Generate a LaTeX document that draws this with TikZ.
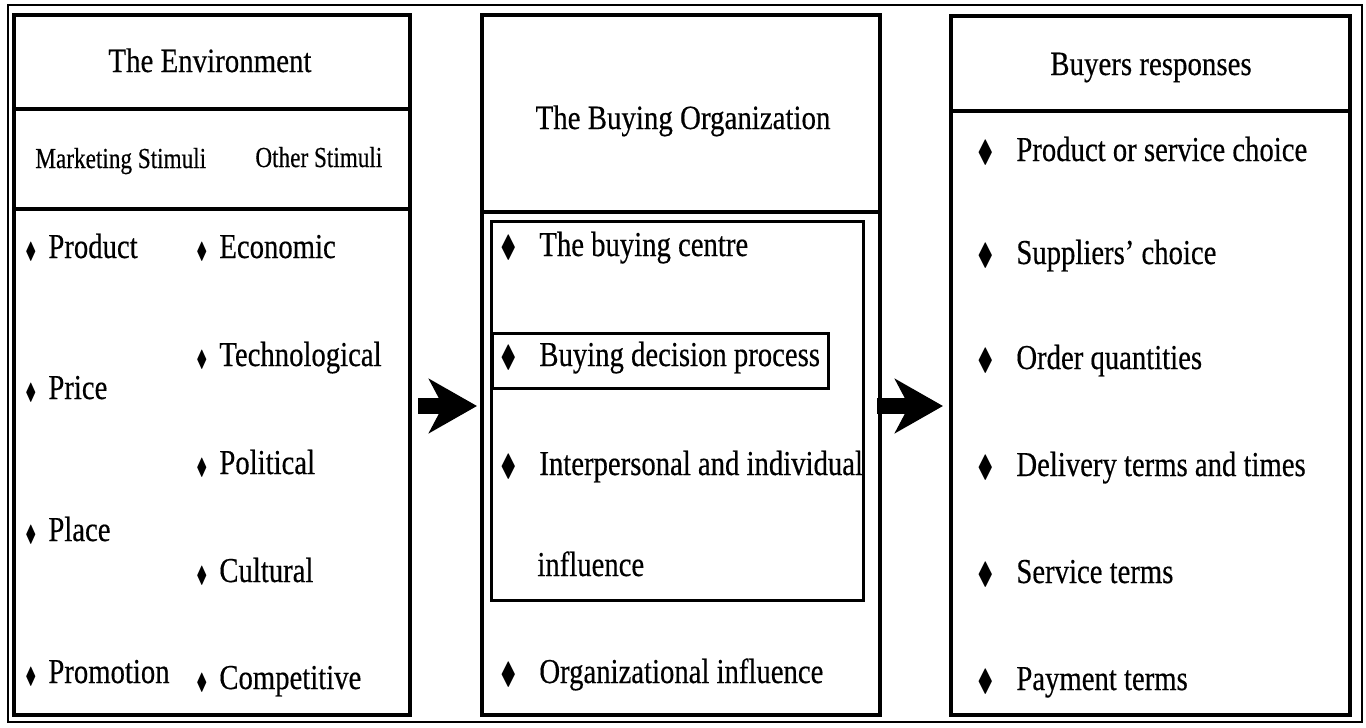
\documentclass[tikz,border=0pt]{standalone}
\usepackage{fontspec}
\usepackage{amssymb}
\usepackage{graphicx}
\setmainfont[FakeStretch=0.82, FakeBold=0.4]{Liberation Serif}
\newfontfamily\headfam[FakeStretch=0.85, FakeBold=0.4]{Liberation Serif}
\newfontfamily\stimfam[FakeStretch=0.80, FakeBold=0.4]{Liberation Serif}
\usetikzlibrary{arrows.meta,positioning}
\newcommand{\smalldia}{\resizebox{5.5pt}{8pt}{$\blacklozenge$}\hspace{6pt}}
\newcommand{\bigdia}{\makebox[19.5pt][l]{\resizebox{8pt}{10.5pt}{$\blacklozenge$}}}
\tikzset{
  colbox/.style = {draw, line width=2.2pt, outer sep=0pt, inner sep=0pt},
  thinbox/.style = {draw, line width=1.5pt, outer sep=0pt, inner sep=0pt},
  headtext/.style = {anchor=base, inner sep=0pt, font=\headfam\fontsize{17}{20}\selectfont},
  stimtext/.style = {anchor=base west, inner sep=0pt, font=\stimfam\fontsize{14.5}{17}\selectfont},
  itemtext/.style = {anchor=base west, inner sep=0pt, font=\fontsize{17.5}{20}\selectfont},
  bigarrow/.style = {line width=8pt, -{Stealth[length=24pt, width=27pt, inset=7pt]}}
}
\begin{document}
\begin{tikzpicture}[x=0.5pt, y=-0.5pt]
\useasboundingbox (0,0) rectangle (1366,728);
\draw[line width=0.75pt] (8,5) rectangle (1362,722);
% the environment
\node[colbox, minimum width=198pt, minimum height=47pt] (envhead) at (212,62) {};
\node[colbox, minimum width=198pt, minimum height=50pt] (envstim) at (212,159) {};
\node[colbox, minimum width=198pt, minimum height=253pt] (envlist) at (212,462) {};
\node[headtext] (envtitle) at (210,72) {The Environment};
\node[stimtext] (mktstim) at (35,168) {Marketing Stimuli};
\node[stimtext] (othstim) at (255,167) {Other Stimuli};
\foreach \y/\t [count=\i] in {258/Product, 399/Price, 541/Place, 683/Promotion}
  \node[itemtext] (mkt\i) at (25,\y) {\smalldia\t};
\foreach \y/\t [count=\i] in {258/Economic, 366/Technological, 474/Political, 582/Cultural, 689/Competitive}
  \node[itemtext] (oth\i) at (196,\y) {\smalldia\t};
% the buying organization
\node[colbox, minimum width=199pt, minimum height=98.5pt] (orghead) at (681,113.5) {};
\node[colbox, minimum width=199pt, minimum height=251.5pt] (orglist) at (681,463.5) {};
\node[thinbox, minimum width=186pt, minimum height=189.5pt] (orgcentre) at (677,410.5) {};
\node[thinbox, minimum width=168pt, minimum height=27.5pt] (orgprocess) at (660,360.5) {};
\node[headtext] (orgtitle) at (683,129) {The Buying Organization};
\node[itemtext] (org1) at (500,256) {\bigdia The buying centre};
\node[itemtext] (org2) at (500,366) {\bigdia Buying decision process};
\node[itemtext] (org3) at (500,475) {\bigdia Interpersonal and individual};
\node[itemtext] (org3b) at (537,576) {influence};
\node[itemtext] (org4) at (500,683) {\bigdia Organizational influence};
% buyers responses
\node[colbox, minimum width=199.5pt, minimum height=47.5pt] (resphead) at (1150.5,63.5) {};
\node[colbox, minimum width=199.5pt, minimum height=302pt] (resplist) at (1150.5,413) {};
\node[headtext] (resptitle) at (1151,75) {Buyers responses};
\foreach \y/\t [count=\i] in {161/Product or service choice, 264/Suppliers' choice, 369/Order quantities,
    476/Delivery terms and times, 583/Service terms, 690/Payment terms}
  \node[itemtext] (resp\i) at (977,\y) {\bigdia\t};
% arrows
\draw[bigarrow] ([shift={(8,-56)}]envlist.east) -- ([shift={(-5,-57.5)}]orglist.west);
\draw[bigarrow] ([shift={(-3,-57.5)}]orglist.east) -- ([shift={(-8,-7)}]resplist.west);
\end{tikzpicture}
\end{document}
